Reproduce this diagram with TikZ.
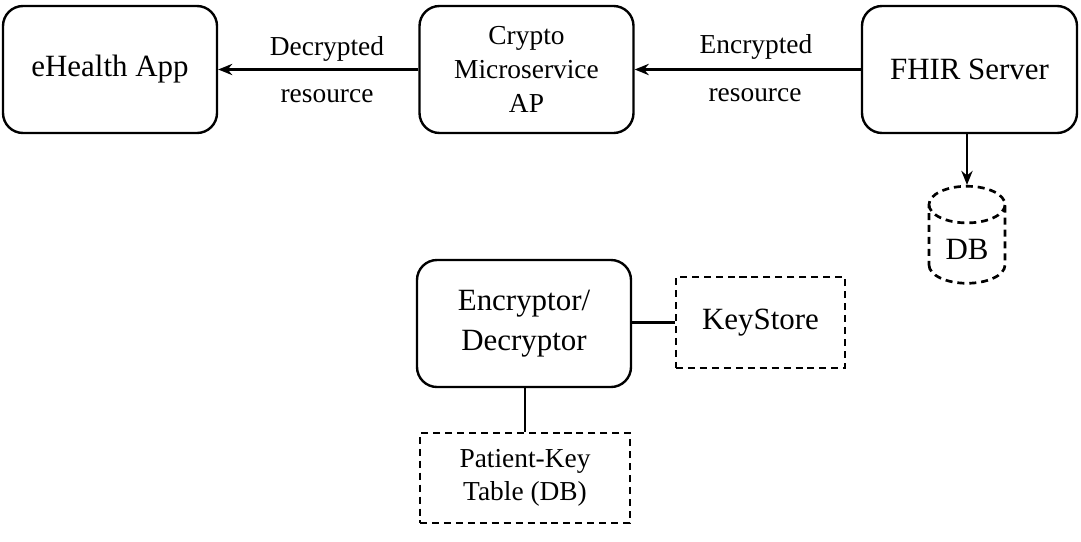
\documentclass[tikz,border=0pt]{standalone}
\usepackage{fontspec}
\setmainfont{Liberation Serif}
\usetikzlibrary{positioning,arrows,arrows.meta,shapes.geometric}
\tikzset{%
  service/.style={draw, rectangle, rounded corners=0.5cm, line width=1.7pt,
    minimum width=5.35cm, minimum height=3.175cm, align=center,
    font=\fontsize{22}{28}\selectfont},% rounded service box
  store/.style={draw, rectangle, line width=1.9pt, dash pattern=on 5pt off 3.5pt,
    align=center, font=\fontsize{22}{28}\selectfont},% dashed storage box
  flowlabel/.style={font=\fontsize{19.5}{24}\selectfont},% text at the arrows
  link/.style={line width=1.6pt},
  flow/.style={link, -{Stealth[length=10pt,width=8pt]}}
}
\begin{document}
\begin{tikzpicture}
\useasboundingbox (0,0) rectangle (27.025,13.525);

\node[service] (app) at (2.75, 11.7875) {eHealth App};
\node[service, font=\fontsize{19.5}{24}\selectfont] (crypto) at (13.1625, 11.7875) {Crypto\\Microservice\\AP};
\node[service, minimum width=5.375cm] (fhir) at (24.2375, 11.7875) {FHIR Server};

\node[store, cylinder, shape border rotate=90, aspect=0.7,
  minimum width=1.9cm, minimum height=2.425cm] (db) at (24.175, 7.3) {DB};

\node[service] (crypt) at (13.1, 5.4375) {Encryptor/\\Decryptor};
\node[store, minimum width=4.225cm, minimum height=2.275cm] (keys) at (19.0125, 5.4625) {KeyStore};
\node[store, minimum width=5.25cm, minimum height=2.25cm,
  font=\fontsize{19.5}{23}\selectfont] (ptable) at (13.125, 1.575) {Patient-Key\\Table (DB)};

\node[flowlabel] (dec) at (8.175, 12.3) {Decrypted};
\node[flowlabel] (decres) at (8.175, 11.12) {resource};
\node[flowlabel] (enc) at (18.9, 12.35) {Encrypted};
\node[flowlabel] (encres) at (18.875, 11.15) {resource};

\draw[flow] (crypto) -- (app);
\draw[flow] (fhir) -- (crypto);
\draw[flow] (fhir.south -| db.north) -- (db.north);
\draw[link] (crypt.east |- keys.west) -- (keys.west);
\draw[link] (crypt.south -| ptable.north) -- (ptable.north);

\end{tikzpicture}
\end{document}
